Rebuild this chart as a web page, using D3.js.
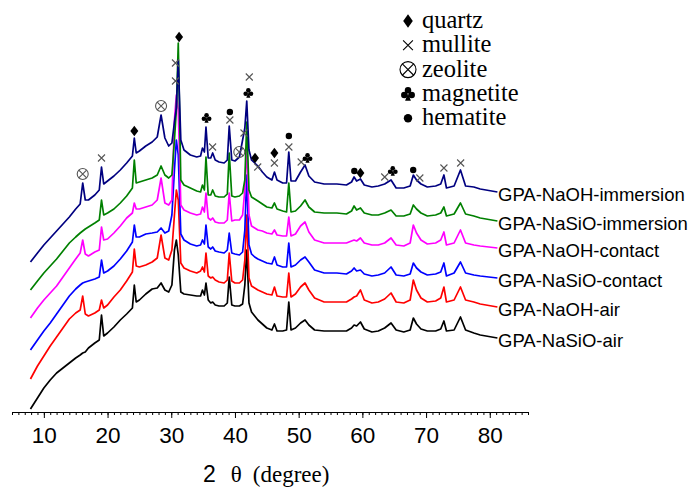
<!DOCTYPE html>
<html lang="en">
<head>
  <meta charset="UTF-8">
  <title>XRD patterns</title>
  <script src="https://d3js.org/d3.v7.min.js"></script>
  <style>
    body { margin: 0; background: #fff; }
    svg { display: block; }
  </style>
</head>
<body>
<svg id="chart" width="694" height="489"></svg>
<script>
  // 2-theta grid shared by all patterns (degree)
  const twoTheta = [7.9, 9, 10, 11, 12, 13, 14, 15, 15.7, 16.1,
    16.5, 17, 18, 18.7, 19.05, 19.4, 20, 21, 22, 23,
    23.9, 24.2, 24.5, 25, 26, 27, 27.8, 28.4, 29, 29.6,
    30.1, 30.5, 30.8, 31.1, 31.5, 32, 33, 34, 34.6, 34.9,
    35.2, 35.45, 35.8, 36.2, 36.5, 36.9, 37.5, 38.3, 38.8, 39.1,
    39.5, 40, 40.7, 41.2, 41.55, 41.85, 42.2, 42.6, 43.1, 43.6,
    44.3, 45, 45.8, 46.2, 46.6, 47.5, 48.1, 48.45, 48.8, 49.5,
    50.3, 51, 51.6, 52.5, 54, 56, 57.5, 58.3, 58.7, 59.1,
    59.7, 60.3, 61.5, 62.5, 63.5, 64.5, 65.3, 66.5, 67.5, 68,
    68.5, 69.2, 70.2, 71.5, 72.3, 72.8, 73.2, 74.4, 75.4, 76.2,
    77.5, 78.5, 81.2];

  // intensities (a.u., stacked)
  const naohImmersion = [150, 159, 167, 174, 181, 188, 195, 203, 208, 229,
    212, 212, 217, 222, 245, 228, 231, 236, 242, 249,
    256, 274, 259, 261, 266, 270, 275, 297, 274, 266,
    269, 290, 304, 352, 272, 262, 257, 255, 256, 264,
    260, 285, 254, 254, 259, 252, 250, 249, 252, 286,
    252, 251, 255, 272, 284, 311, 262, 252, 249, 246,
    240, 235, 232, 240, 232, 229, 229, 260, 231, 231,
    240, 247, 236, 230, 228, 228, 227, 230, 235, 231,
    233, 227, 225, 226, 228, 232, 224, 224, 226, 237,
    232, 228, 225, 226, 228, 237, 224, 226, 242, 226,
    225, 223, 220];
  const nasioImmersion = [122, 131, 139, 146, 153, 161, 169, 175, 179, 181,
    183, 185, 189, 192, 212, 197, 199, 203, 209, 216,
    224, 252, 229, 230, 232, 234, 237, 246, 237, 234,
    237, 272, 302, 369, 232, 227, 224, 221, 220, 227,
    222, 255, 217, 217, 222, 216, 215, 215, 218, 259,
    216, 215, 216, 219, 232, 290, 222, 215, 213, 211,
    208, 205, 204, 209, 203, 201, 200, 229, 200, 201,
    206, 212, 205, 200, 199, 199, 198, 201, 206, 202,
    204, 199, 197, 197, 199, 202, 196, 196, 198, 207,
    203, 199, 196, 197, 199, 205, 196, 198, 209, 198,
    196, 194, 191];
  const naohContact = [94, 104, 112, 119, 126, 135, 144, 153, 159, 172,
    158, 156, 160, 162, 185, 172, 173, 179, 186, 194,
    199, 209, 203, 203, 205, 207, 212, 234, 209, 207,
    212, 292, 317, 302, 207, 202, 199, 197, 198, 205,
    200, 219, 194, 192, 194, 190, 189, 189, 192, 219,
    191, 192, 192, 197, 222, 267, 197, 186, 184, 182,
    181, 179, 178, 182, 177, 176, 176, 195, 176, 178,
    186, 190, 180, 172, 169, 169, 169, 171, 172, 171,
    174, 169, 167, 167, 169, 174, 167, 166, 169, 187,
    179, 172, 168, 169, 172, 180, 167, 169, 182, 169,
    167, 166, 164];
  const nasioContact = [62, 72, 81, 89, 98, 107, 116, 123, 127, 129,
    130, 131, 133, 135, 152, 139, 141, 146, 153, 161,
    170, 187, 175, 175, 178, 179, 180, 184, 179, 181,
    197, 242, 272, 257, 178, 172, 168, 166, 167, 172,
    168, 187, 165, 163, 165, 161, 160, 159, 162, 179,
    159, 158, 157, 160, 182, 237, 167, 158, 155, 153,
    151, 149, 148, 155, 147, 145, 145, 169, 145, 147,
    152, 155, 150, 142, 139, 139, 138, 141, 144, 141,
    142, 138, 136, 137, 139, 145, 137, 136, 138, 149,
    144, 140, 137, 138, 140, 149, 136, 139, 150, 139,
    137, 136, 134];
  const naohAir = [33, 46, 56, 66, 75, 84, 93, 99, 102, 116,
    98, 96, 99, 102, 112, 104, 107, 115, 122, 131,
    140, 163, 146, 145, 147, 150, 154, 177, 154, 152,
    162, 197, 222, 212, 149, 144, 141, 139, 141, 145,
    140, 159, 136, 134, 135, 132, 130, 129, 132, 159,
    131, 129, 129, 132, 152, 197, 134, 126, 124, 122,
    120, 118, 117, 125, 116, 115, 115, 139, 115, 118,
    125, 129, 122, 114, 110, 110, 110, 113, 115, 116,
    122, 112, 109, 110, 113, 119, 110, 109, 112, 132,
    122, 114, 110, 111, 114, 125, 110, 112, 125, 112,
    110, 108, 105];
  const nasioAir = [3, 14, 24, 32, 39, 44, 49, 54, 57, 59,
    60, 64, 69, 72, 97, 76, 79, 85, 92, 98,
    104, 127, 110, 112, 118, 123, 124, 129, 122, 120,
    127, 162, 172, 157, 120, 118, 117, 116, 116, 122,
    117, 129, 112, 109, 110, 107, 106, 106, 109, 135,
    107, 106, 106, 108, 127, 162, 109, 100, 96, 92,
    88, 84, 82, 88, 81, 81, 82, 110, 82, 84,
    89, 92, 87, 82, 81, 81, 81, 84, 87, 86,
    90, 83, 80, 81, 84, 89, 82, 80, 82, 94,
    88, 83, 81, 81, 83, 91, 81, 82, 95, 82,
    79, 77, 74];

  const sampleNames = ["GPA-NaSiO-air", "GPA-NaOH-air", "GPA-NaSiO-contact",
    "GPA-NaOH-contact", "GPA-NaSiO-immersion", "GPA-NaOH-immersion"];
  const sampleValues = [nasioAir, naohAir, nasioContact, naohContact, nasioImmersion, naohImmersion];
  const sampleColors = ["#000000", "#ff0000", "#0000ff", "#ff00ff", "#008000", "#000080"];

  // phase markers: d quartz, x mullite, z zeolite, c magnetite, h hematite
  const markerType = ["z", "x", "d", "z", "x", "x", "d", "c", "x", "h", "x", "z", "x", "c", "x", "d", "x",
    "d", "x", "h", "x", "x", "c", "h", "d", "x", "c", "h", "x", "x", "x"];
  const markerTheta = [16.1, 19.05, 24.2, 28.4, 30.66, 30.66, 31.23, 35.54, 36.49, 39.2, 39.2, 40.68, 41.42, 42.1, 42.25, 43.15, 43.57,
    46.19, 46.19, 48.46, 48.46, 50.39, 51.39, 58.74, 59.69, 63.51, 64.77, 67.98, 69.02, 72.8, 75.43];
  const markerLevel = [238, 254, 281, 306, 331, 349, 375, 294, 265, 300, 292, 260, 279, 319, 335, 254, 245,
    259, 249, 276, 265, 250, 254, 241, 239, 235, 241, 242, 234, 244, 249];

  const legendKeys = ["d", "x", "z", "c", "h"];
  const legendNames = ["quartz", "mullite", "zeolite", "magnetite", "hematite"];

  const svg = d3.select("#chart");

  const x = d3.scaleLinear().domain([5, 86]).range([12, 528]);
  const y = d3.scaleLinear().domain([0, 400]).range([412, 12]);

  // x axis: minor ticks every degree, major every 10
  svg.append("g")
    .attr("transform", "translate(0,412)")
    .call(d3.axisBottom(x).tickValues(d3.range(5, 87)).tickSize(3).tickSizeOuter(0).tickFormat(""))
    .call(g => g.select(".domain").attr("stroke-width", 1.2));

  const major = svg.append("g")
    .attr("transform", "translate(0,412)")
    .call(d3.axisBottom(x).tickValues(d3.range(10, 81, 10)).tickSize(6).tickSizeOuter(0));
  major.select(".domain").remove();
  major.selectAll("text")
    .attr("y", 31).attr("dy", 0)
    .attr("font-family", "Liberation Sans, Arial, sans-serif")
    .attr("font-size", 22.5)
    .attr("fill", "#000");

  const title = svg.append("text")
    .attr("x", 203).attr("y", 482)
    .attr("font-size", 23)
    .attr("fill", "#000");
  title.append("tspan").attr("font-family", "Liberation Sans, Arial, sans-serif").text("2");
  title.append("tspan").attr("dx", 15).attr("font-family", "Liberation Serif, Times New Roman, serif").text("θ");
  title.append("tspan").attr("dx", 11).attr("font-family", "Liberation Serif, Times New Roman, serif").text("(degree)");

  // patterns
  const line = d3.line()
    .x(d => x(d[0]))
    .y(d => y(d[1]));

  sampleValues.forEach((vals, i) => {
    const pts = twoTheta.map((t, j) => [t, vals[j]]);
    svg.append("path")
      .attr("d", line(pts))
      .attr("fill", "none")
      .attr("stroke", sampleColors[i])
      .attr("stroke-width", 1.7)
      .attr("stroke-linejoin", "round");

    svg.append("text")
      .attr("x", 498)
      .attr("y", y(vals[vals.length - 1]) + 9)
      .attr("font-family", "Liberation Sans, Arial, sans-serif")
      .attr("font-size", 18.5)
      .attr("fill", "#000")
      .text(sampleNames[i]);
  });

  function drawSymbol(type, cx, cy, big) {
    const k = big ? 1.4 : 1;
    const grey = big ? "#000" : "#555";
    if (type === "d") {
      const w = 4 * (big ? 1.2 : 1), h = 5.2 * (big ? 1.3 : 1);
      svg.append("path")
        .attr("d", `M${cx},${cy - h}L${cx + w},${cy}L${cx},${cy + h}L${cx - w},${cy}Z`)
        .attr("fill", "#000");
    } else if (type === "x") {
      const s = 3.5 * k;
      svg.append("path")
        .attr("d", `M${cx - s},${cy - s}L${cx + s},${cy + s}M${cx - s},${cy + s}L${cx + s},${cy - s}`)
        .attr("stroke", grey).attr("stroke-width", 1.1);
    } else if (type === "z") {
      const r = big ? 8 : 5.5, a = r * 0.7071;
      svg.append("circle").attr("cx", cx).attr("cy", cy).attr("r", r)
        .attr("fill", "none").attr("stroke", grey).attr("stroke-width", 1.1);
      svg.append("path")
        .attr("d", `M${cx - a},${cy - a}L${cx + a},${cy + a}M${cx - a},${cy + a}L${cx + a},${cy - a}`)
        .attr("stroke", grey).attr("stroke-width", 1.1);
    } else if (type === "c") {
      // club: three lobes and a stem
      const r = 2.3 * k;
      const lobes = [[0, -1.15 * r], [-1.15 * r, 0.35 * r], [1.15 * r, 0.35 * r]];
      lobes.forEach(p => svg.append("circle")
        .attr("cx", cx + p[0]).attr("cy", cy + p[1]).attr("r", r).attr("fill", "#000"));
      svg.append("path")
        .attr("d", `M${cx},${cy - 0.3 * r}L${cx + 0.9 * r},${cy + 2.1 * r}L${cx - 0.9 * r},${cy + 2.1 * r}Z`)
        .attr("fill", "#000");
    } else if (type === "h") {
      svg.append("circle").attr("cx", cx).attr("cy", cy).attr("r", big ? 4.2 : 3.2).attr("fill", "#000");
    }
  }

  markerType.forEach((t, i) => drawSymbol(t, x(markerTheta[i]), y(markerLevel[i]), false));

  // legend
  legendKeys.forEach((k, i) => {
    const cy = 21 + i * 24.3;
    drawSymbol(k, 408, cy, true);
    svg.append("text")
      .attr("x", 422).attr("y", cy + 7)
      .attr("font-family", "Liberation Serif, Times New Roman, serif")
      .attr("font-size", 24.5)
      .attr("fill", "#000")
      .text(legendNames[i]);
  });
</script>
</body>
</html>
